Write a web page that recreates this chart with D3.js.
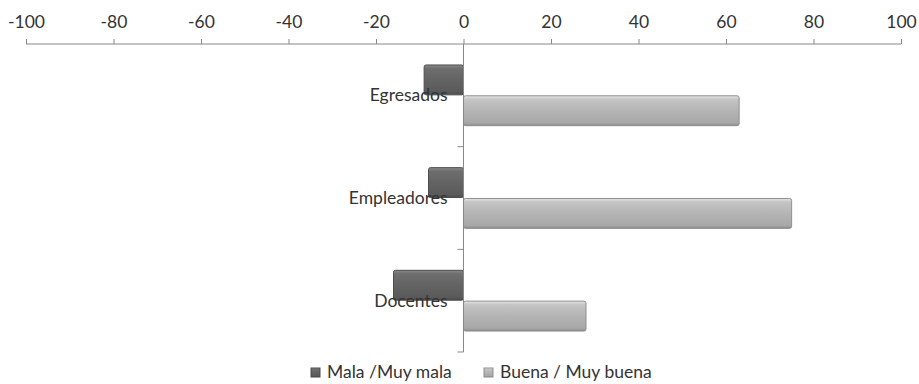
<!DOCTYPE html>
<html><head><meta charset="utf-8">
<script src="https://cdn.jsdelivr.net/npm/d3@7"></script>
<style>body{margin:0;background:#fff}svg{display:block;font-family:Lato,"Open Sans",sans-serif}</style>
</head><body><svg id="c" width="919" height="384"></svg>
<script>
const categories = ["Egresados", "Empleadores", "Docentes"];
const seriesNames = ["Mala /Muy mala", "Buena / Muy buena"];
const mala = [-9, -8, -16];
const buena = [63, 75, 28];
const tickValues = [-100, -80, -60, -40, -20, 0, 20, 40, 60, 80, 100];

const svg = d3.select("#c");
const defs = svg.append("defs");
function grad(id, stops) {
  const g = defs.append("linearGradient").attr("id", id).attr("x1", 0).attr("y1", 0).attr("x2", 0).attr("y2", 1);
  stops.forEach(s => g.append("stop").attr("offset", s[0]).attr("stop-color", s[1]));
}
grad("gDark", [[0, "#8a8a8a"], [0.12, "#6e6e6e"], [0.5, "#636363"], [0.9, "#5a5a5a"], [1, "#4a4a4a"]]);
grad("gLight", [[0, "#e6e6e6"], [0.12, "#c4c4c4"], [0.5, "#b4b4b4"], [0.9, "#a8a8a8"], [1, "#8c8c8c"]]);

const FS = 17.5;
const x = d3.scaleLinear().domain([-100, 100]).range([26, 901]);
const y = d3.scaleBand().domain(categories).range([44, 352]).paddingInner(0).paddingOuter(0);
const yInner = d3.scaleBand().domain([0, 1]).range([0, y.bandwidth()]).paddingInner(0.03).paddingOuter(0.68);

// top axis
const gx = svg.append("g").attr("transform", "translate(0,44)")
  .call(d3.axisTop(x).tickValues(tickValues).tickSize(5).tickPadding(11).tickFormat(d => String(d)));
gx.select(".domain").attr("stroke", "#888").attr("d", `M${x(-100)},0H${x(100)}`);
gx.selectAll(".tick line").attr("stroke", "#888");
gx.selectAll(".tick text").attr("font-size", FS).attr("fill", "#333").attr("font-family", "Lato, sans-serif");

// bars
const series = [mala, buena];
const fills = ["url(#gDark)", "url(#gLight)"];
const strokes = ["#4d4d4d", "#8e8e8e"];
series.forEach((vals, si) => {
  svg.append("g").selectAll("rect").data(vals).join("rect")
    .attr("x", d => x(Math.min(0, d)))
    .attr("width", d => Math.abs(x(d) - x(0)))
    .attr("y", (d, i) => y(categories[i]) + yInner(si))
    .attr("height", yInner.bandwidth())
    .attr("rx", 2)
    .attr("fill", fills[si])
    .attr("stroke", strokes[si]).attr("stroke-width", 1);
});

// vertical category axis at 0
const gy = svg.append("g").attr("transform", `translate(${x(0)},0)`);
gy.append("line").attr("x1", 0).attr("x2", 0).attr("y1", 44).attr("y2", 352).attr("stroke", "#888");
const boundaries = categories.map(c => y(c)).concat([y.range()[1]]);
gy.selectAll("line.t").data(boundaries.slice(1)).join("line").attr("class", "t")
  .attr("x1", -6).attr("x2", 0).attr("y1", d => d).attr("y2", d => d).attr("stroke", "#888");
gy.selectAll("text").data(categories).join("text")
  .attr("x", -16).attr("y", d => y(d) + y.bandwidth() / 2 + 6)
  .attr("text-anchor", "end").attr("font-size", FS).attr("fill", "#333").text(d => d);

// legend
const legendX = [311, 484];
const lg = svg.append("g");
seriesNames.forEach((n, i) => {
  lg.append("rect").attr("x", legendX[i]).attr("y", 368).attr("width", 9).attr("height", 9)
    .attr("fill", fills[i]).attr("stroke", strokes[i]);
  lg.append("text").attr("x", legendX[i] + 16).attr("y", 378).attr("font-size", FS).attr("fill", "#333").text(n);
});
</script></body></html>
